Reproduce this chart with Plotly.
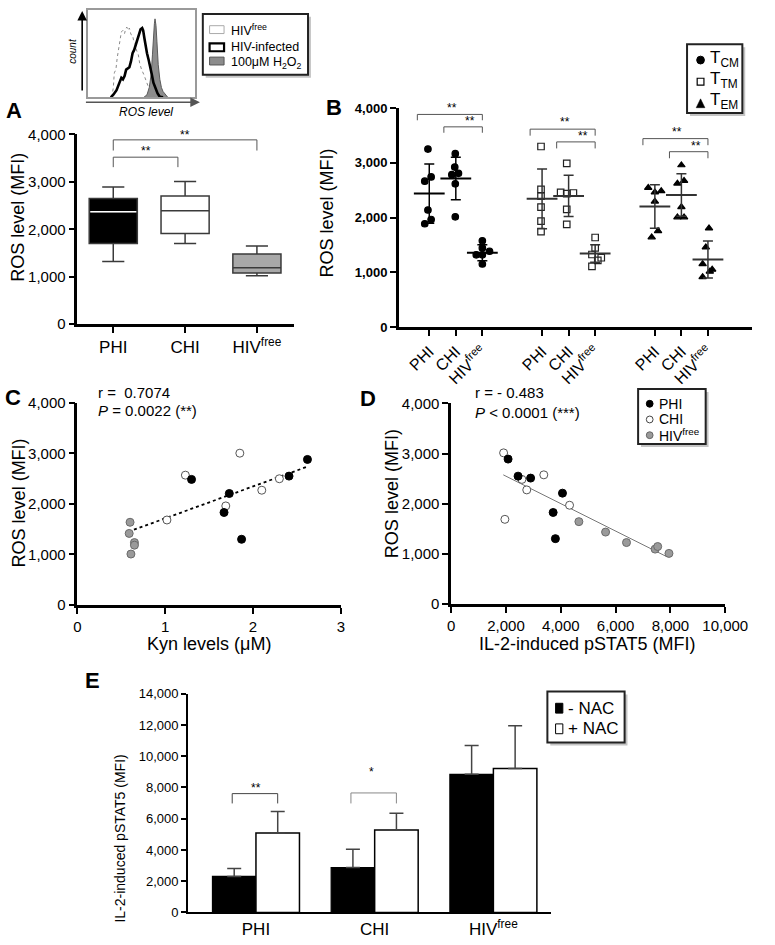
import plotly.graph_objects as go

W, H = 775, 945
FONT = "Liberation Sans, Arial, sans-serif"

# ---------------- data ----------------
# inset: flow histogram (ROS level channel vs count)
hist_free_x = [95, 100, 103, 108, 112, 117, 120, 125, 130, 135, 138, 142, 146, 150, 155, 160, 163, 168, 172, 178, 182, 188, 195, 200, 210, 220, 235]
hist_free_y = [0, 30, 75, 85, 120, 150, 175, 200, 205, 195, 208, 215, 205, 212, 192, 190, 175, 165, 145, 130, 105, 85, 70, 55, 30, 10, 0]
hist_inf_x = [92, 100, 110, 118, 125, 130, 135, 140, 145, 150, 155, 160, 165, 170, 175, 180, 185, 190, 193, 197, 200, 205, 210, 215, 220, 225, 230, 238, 245, 255]
hist_inf_y = [0, 8, 22, 45, 60, 55, 65, 85, 90, 92, 110, 135, 145, 160, 175, 195, 208, 212, 205, 180, 160, 135, 115, 95, 70, 45, 30, 12, 2, 0]
hist_h2o2_x = [195, 205, 212, 218, 222, 225, 228, 230, 233, 236, 240, 245, 250, 255, 262, 270]
hist_h2o2_y = [0, 8, 30, 70, 130, 190, 225, 240, 220, 170, 100, 55, 30, 18, 8, 0]

groups = ["PHI", "CHI", "HIV<sup>free</sup>"]

# panel A: box statistics of ROS level (MFI)
a_q1 = [1700, 1910, 1080]
a_med = [2370, 2390, 1190]
a_q3 = [2650, 2700, 1480]
a_lo = [1320, 1700, 1020]
a_hi = [2890, 3010, 1650]

# panel B: ROS level (MFI) per memory subset, per group (PHI, CHI, HIVfree)
subsets = ["T<sub>CM</sub>", "T<sub>TM</sub>", "T<sub>EM</sub>"]
b_tcm = [[3253, 2744, 2667, 2140, 1967, 1889],
         [3169, 2924, 2810, 2786, 2619, 2015],
         [1578, 1447, 1387, 1321, 1321, 1154]]
b_ttm = [[3300, 2517, 2392, 2194, 1937, 1746],
         [2990, 2463, 2440, 2451, 2152, 1877],
         [1638, 1447, 1327, 1268, 1220, 1112]]
b_tem = [[2547, 2463, 2487, 2296, 1758, 1644],
         [2960, 2625, 2673, 2194, 2009, 2009],
         [1806, 1459, 1154, 1052, 1016, 915]]
b_tcm_jitter = [[-0.05, 0.07, -0.17, -0.05, 0.07, -0.17],
                [-0.02, -0.04, 0.10, -0.15, -0.02, -0.02],
                [0.0, 0.0, 0.27, -0.23, 0.0, 0.0]]
b_ttm_jitter = [[-0.04, -0.04, -0.04, -0.04, -0.04, -0.04],
                [-0.07, -0.30, -0.07, 0.18, -0.07, -0.07],
                [0.0, 0.0, -0.12, 0.23, 0.10, -0.12]]
b_tem_jitter = [[-0.25, 0.0, 0.24, 0.0, 0.12, -0.12],
                [0.0, -0.15, 0.10, 0.0, -0.15, 0.10],
                [0.04, -0.08, -0.20, 0.16, 0.07, -0.20]]
b_mean = [[2440, 2714, 1360], [2344, 2398, 1345], [2203, 2415, 1235]]
b_sd = [[541, 388, 147], [547, 377, 160], [398, 389, 338]]
b_group_pos = [0.0, 4.25, 8.5]

# panel C: Kyn levels (uM) vs ROS level (MFI)
c_phi_kyn = [1.30, 1.73, 1.67, 1.87, 2.41, 2.62]
c_phi_ros = [2483, 2204, 1828, 1297, 2548, 2878]
c_chi_kyn = [1.23, 1.02, 1.69, 1.85, 2.10, 2.30]
c_chi_ros = [2567, 1679, 1958, 3002, 2269, 2496]
c_free_kyn = [0.60, 0.59, 0.65, 0.65, 0.61]
c_free_ros = [1634, 1413, 1232, 1180, 1005]
c_fit_x = [0.58, 2.62]
c_fit_y = [1446, 2736]

# panel D: IL-2-induced pSTAT5 (MFI) vs ROS level (MFI)
d_phi_p = [2077, 2441, 2899, 4061, 3721, 3803]
d_phi_ros = [2891, 2551, 2512, 2212, 1827, 1305]
d_chi_p = [1913, 2582, 2758, 3380, 4319, 1960]
d_chi_ros = [3015, 2486, 2277, 2577, 1971, 1690]
d_free_p = [4660, 5634, 6397, 7441, 7535, 7946]
d_free_ros = [1644, 1436, 1227, 1096, 1148, 1011]
d_fit_x = [1901, 7840]
d_fit_y = [2577, 953]

# panel E: IL-2-induced pSTAT5 (MFI) -/+ NAC
e_minus = [2305, 2871, 8845]
e_minus_err = [503, 1174, 1845]
e_plus = [5093, 5281, 9222]
e_plus_err = [1362, 1070, 2725]


# ---------------- helpers ----------------
def xd(a, b):
    return [a / W, b / W]


def yd(top, bot):
    return [1 - bot / H, 1 - top / H]


def PX(x):
    return x / W


def PY(y):
    return 1 - y / H


shapes = []
annotations = []


def ptext(x, y, text, size=15, xanchor="center", angle=0, bold=False, italic=False, color="black"):
    if bold:
        text = "<b>" + text + "</b>"
    if italic:
        text = "<i>" + text + "</i>"
    annotations.append(dict(x=PX(x), y=PY(y), xref="paper", yref="paper", text=text, showarrow=False,
                            xanchor=xanchor, yanchor="middle", textangle=angle,
                            font=dict(family=FONT, size=size, color=color)))


def prect(x0, y0, x1, y1, fill="white", line="black", lw=1.0):
    shapes.append(dict(type="rect", xref="paper", yref="paper", x0=PX(x0), x1=PX(x1), y0=PY(y1), y1=PY(y0),
                       fillcolor=fill, line=dict(color=line, width=lw)))


def pcircle(cx, cy, r, fill, line="black", lw=1.0):
    shapes.append(dict(type="circle", xref="paper", yref="paper", x0=PX(cx - r), x1=PX(cx + r),
                       y0=PY(cy + r), y1=PY(cy - r), fillcolor=fill, line=dict(color=line, width=lw)))


def ptri(cx, cy, s, fill="black"):
    path = "M {},{} L {},{} L {},{} Z".format(PX(cx - s / 2), PY(cy + s / 2), PX(cx + s / 2), PY(cy + s / 2),
                                             PX(cx), PY(cy - s / 2))
    shapes.append(dict(type="path", xref="paper", yref="paper", path=path, fillcolor=fill,
                       line=dict(color=fill, width=0.5)))


def legend_box(x0, y0, x1, y1):
    prect(x0 + 3, y0 + 3, x1 + 3, y1 + 3, fill="#c4c4c4", line="#c4c4c4", lw=0)
    prect(x0, y0, x1, y1, fill="white", line="#222", lw=2)


def bracket(ax, x0, x1, ytop, ybot, color="#555", lw=1.0):
    shapes.append(dict(type="path", xref="x" + ax, yref="y" + ax,
                       path="M {},{} L {},{} L {},{} L {},{}".format(x0, ybot, x0, ytop, x1, ytop, x1, ybot),
                       line=dict(color=color, width=lw)))


def stars(ax, x, y, text, size=12):
    annotations.append(dict(x=x, y=y, xref="x" + ax, yref="y" + ax, text=text, showarrow=False,
                            font=dict(family=FONT, size=size, color="black"), yanchor="middle"))


fig = go.Figure()

# ---------------- inset histogram ----------------
fig.add_trace(go.Scatter(x=hist_h2o2_x, y=hist_h2o2_y, mode="lines", fill="tozeroy", fillcolor="#8c8c8c",
                         line=dict(color="#5a5a5a", width=1), name="100μM H2O2", showlegend=False,
                         xaxis="x", yaxis="y"))
fig.add_trace(go.Scatter(x=hist_free_x, y=hist_free_y, mode="lines", line=dict(color="#8a8a8a", width=1, dash="dot"),
                         name="HIVfree", showlegend=False, xaxis="x", yaxis="y"))
fig.add_trace(go.Scatter(x=hist_inf_x, y=hist_inf_y, mode="lines", line=dict(color="black", width=2.6),
                         name="HIV-infected", showlegend=False, xaxis="x", yaxis="y"))

# ---------------- panel A ----------------
a_x = [0, 1, 2]
a_fill = ["black", "white", "#a8a8a8"]
for i in range(3):
    fig.add_trace(go.Box(x=[a_x[i]], q1=[a_q1[i]], median=[a_med[i]], q3=[a_q3[i]], lowerfence=[a_lo[i]],
                         upperfence=[a_hi[i]], width=0.67, whiskerwidth=0.46, fillcolor=a_fill[i],
                         line=dict(color="#3a3a3a", width=1.5), name=groups[i], showlegend=False,
                         boxpoints=False, xaxis="x2", yaxis="y2"))
# white median line on the black PHI box
fig.add_trace(go.Scatter(x=[a_x[0] - 0.32, a_x[0] + 0.32], y=[a_med[0], a_med[0]], mode="lines",
                         line=dict(color="white", width=1.5), showlegend=False, hoverinfo="skip",
                         xaxis="x2", yaxis="y2"))
bracket("2", 0, 0.9, 3520, 3310)
bracket("2", 0, 2.0, 3885, 3660)
stars("2", 0.45, 3650, "**")
stars("2", 1.0, 3995, "**")

# ---------------- panel B ----------------
b_sets = [b_tcm, b_ttm, b_tem]
b_jit = [b_tcm_jitter, b_ttm_jitter, b_tem_jitter]
b_symbols = ["circle", "square-open", "triangle-up"]
b_mcol = ["black", "#222", "black"]
for s in range(3):
    xs, ys = [], []
    for g in range(3):
        for v, j in zip(b_sets[s][g], b_jit[s][g]):
            xs.append(b_group_pos[s] + g + j)
            ys.append(v)
    fig.add_trace(go.Scatter(x=xs, y=ys, mode="markers", name=subsets[s], showlegend=False,
                             marker=dict(symbol=b_symbols[s], size=6.5, color=b_mcol[s],
                                         line=dict(color=b_mcol[s], width=1.2)),
                             xaxis="x3", yaxis="y3", cliponaxis=False))
    mx = [b_group_pos[s] + g for g in range(3)]
    lc = "black" if s == 0 else "#333"
    fig.add_trace(go.Scatter(x=mx, y=b_mean[s], mode="markers", showlegend=False, hoverinfo="skip",
                             marker=dict(symbol="line-ew-open", size=22, color=lc, line=dict(color=lc, width=2)),
                             error_y=dict(type="data", array=b_sd[s], color=lc, thickness=1.5, width=5),
                             xaxis="x3", yaxis="y3"))
b_br = [(3886, 3779, 3659, 3551), (3617, 3498, 3384, 3265), (3444, 3324, 3205, 3085)]
for s in range(3):
    base = b_group_pos[s]
    u, ul, l, ll = b_br[s]
    bracket("3", base - 0.45, base + 2, u, ul)
    bracket("3", base + 1 - 0.45, base + 2, l, ll)
    stars("3", base + 0.85, min(u + 125, 3995), "**")
    stars("3", base + 1.55, l + 110, "**")

# ---------------- panel C ----------------
fig.add_trace(go.Scatter(x=c_fit_x, y=c_fit_y, mode="lines", line=dict(color="black", width=1.8, dash="dot"),
                         showlegend=False, hoverinfo="skip", xaxis="x4", yaxis="y4"))
fig.add_trace(go.Scatter(x=c_free_kyn, y=c_free_ros, mode="markers", name="HIVfree", showlegend=False,
                         marker=dict(size=8, color="#9a9a9a", line=dict(color="#6a6a6a", width=1)),
                         xaxis="x4", yaxis="y4"))
fig.add_trace(go.Scatter(x=c_chi_kyn, y=c_chi_ros, mode="markers", name="CHI", showlegend=False,
                         marker=dict(size=8, color="white", line=dict(color="#555", width=1)),
                         xaxis="x4", yaxis="y4"))
fig.add_trace(go.Scatter(x=c_phi_kyn, y=c_phi_ros, mode="markers", name="PHI", showlegend=False,
                         marker=dict(size=8, color="black", line=dict(color="black", width=1)),
                         xaxis="x4", yaxis="y4"))

# ---------------- panel D ----------------
fig.add_trace(go.Scatter(x=d_fit_x, y=d_fit_y, mode="lines", line=dict(color="#777", width=1),
                         showlegend=False, hoverinfo="skip", xaxis="x5", yaxis="y5"))
fig.add_trace(go.Scatter(x=d_free_p, y=d_free_ros, mode="markers", name="HIVfree", showlegend=False,
                         marker=dict(size=8, color="#9a9a9a", line=dict(color="#6a6a6a", width=1)),
                         xaxis="x5", yaxis="y5"))
fig.add_trace(go.Scatter(x=d_chi_p, y=d_chi_ros, mode="markers", name="CHI", showlegend=False,
                         marker=dict(size=8, color="white", line=dict(color="#555", width=1)),
                         xaxis="x5", yaxis="y5"))
fig.add_trace(go.Scatter(x=d_phi_p, y=d_phi_ros, mode="markers", name="PHI", showlegend=False,
                         marker=dict(size=8, color="black", line=dict(color="black", width=1)),
                         xaxis="x5", yaxis="y5"))

# ---------------- panel E ----------------
fig.add_trace(go.Bar(x=[0, 1, 2], y=e_minus, name="- NAC", showlegend=False, marker=dict(color="black",
                     line=dict(color="black", width=1.2)),
                     error_y=dict(type="data", array=e_minus_err, arrayminus=[0, 0, 0], symmetric=False,
                                  color="#444", thickness=1.5, width=7),
                     xaxis="x6", yaxis="y6"))
fig.add_trace(go.Bar(x=[0, 1, 2], y=e_plus, name="+ NAC", showlegend=False, marker=dict(color="white",
                     line=dict(color="black", width=1.5)),
                     error_y=dict(type="data", array=e_plus_err, arrayminus=[0, 0, 0], symmetric=False,
                                  color="#444", thickness=1.5, width=7),
                     xaxis="x6", yaxis="y6"))
bracket("6", -0.2, 0.183, 7607, 6979, color="#444")
bracket("6", 1 - 0.2, 1.183, 7650, 6979, color="#888")
stars("6", 0.0, 7966, "**", size=12)
stars("6", 0.97, 8970, "*", size=12)


# ---------------- axes ----------------
def ax_common(**kw):
    d = dict(showgrid=False, zeroline=False, showline=True, linecolor="black", linewidth=2.5,
             ticks="outside", tickcolor="black", tickwidth=2, ticklen=6,
             tickfont=dict(family=FONT, size=15, color="black"), fixedrange=True)
    d.update(kw)
    return d


layout_axes = dict(
    xaxis=dict(domain=xd(86.7, 198), range=[20, 355], anchor="y", showgrid=False, zeroline=False,
               showline=True, mirror=True, linecolor="#9a9a9a", linewidth=2, showticklabels=False, ticks="",
               fixedrange=True),
    yaxis=dict(domain=yd(0.7, 90), range=[0, 268], anchor="x", showgrid=False, zeroline=False,
               showline=True, mirror=True, linecolor="#9a9a9a", linewidth=2, showticklabels=False, ticks="",
               fixedrange=True),
    xaxis2=ax_common(domain=xd(76, 300), range=[-0.5, 2.51], anchor="y2", tickvals=[0, 1, 2],
                     ticktext=groups, tickfont=dict(family=FONT, size=17, color="black")),
    yaxis2=ax_common(domain=yd(127.7, 321), range=[0, 4000], anchor="x2", tickvals=[0, 1000, 2000, 3000, 4000],
                     tickformat=",d"),
    xaxis3=ax_common(domain=xd(409, 775), range=[-1.15, 12.16], anchor="y3",
                     tickvals=[b_group_pos[s] + g for s in range(3) for g in range(3)],
                     ticktext=groups * 3, tickangle=-45, tickfont=dict(family=FONT, size=16, color="black")),
    yaxis3=ax_common(domain=yd(101, 324), range=[0, 4000], anchor="x3", tickvals=[0, 1000, 2000, 3000, 4000],
                     tickformat=",d", tickfont=dict(family=FONT, size=13, color="black", weight="bold")),
    xaxis4=ax_common(domain=xd(76, 349), range=[0, 3], anchor="y4", tickvals=[0, 1, 2, 3]),
    yaxis4=ax_common(domain=yd(401, 606.7), range=[0, 4000], anchor="x4", tickvals=[0, 1000, 2000, 3000, 4000],
                     tickformat=",d"),
    xaxis5=ax_common(domain=xd(463.3, 747.3), range=[0, 10000], anchor="y5",
                     tickvals=[0, 2000, 4000, 6000, 8000, 10000], tickformat=",d"),
    yaxis5=ax_common(domain=yd(401.7, 606), range=[0, 4000], anchor="x5", tickvals=[0, 1000, 2000, 3000, 4000],
                     tickformat=",d"),
    xaxis6=ax_common(domain=xd(190.7, 566.7), range=[-0.572, 2.485], anchor="y6", tickvals=[0, 1, 2],
                     ticktext=groups, ticks="", linewidth=1.8, tickfont=dict(family=FONT, size=17, color="black")),
    yaxis6=ax_common(domain=yd(697.3, 920), range=[0, 14000], anchor="x6",
                     tickvals=[0, 2000, 4000, 6000, 8000, 10000, 12000, 14000], tickformat=",d",
                     linewidth=1.8, tickwidth=1.5, ticklen=5, tickfont=dict(family=FONT, size=13, color="black")),
)

# ---------------- text, titles, legends ----------------
# inset arrows and labels
annotations.append(dict(x=PX(81), y=PY(2), xref="paper", yref="paper", ax=0, ay=88, axref="pixel", ayref="pixel",
                        showarrow=True, arrowhead=2, arrowsize=1.2, arrowwidth=1.6, arrowcolor="black", text=" ",
                        standoff=0, startstandoff=0))
annotations.append(dict(x=PX(203), y=PY(95), xref="paper", yref="paper", ax=-117, ay=0, axref="pixel", ayref="pixel",
                        showarrow=True, arrowhead=2, arrowsize=1.2, arrowwidth=1.6, arrowcolor="#555", text=" ",
                        standoff=0, startstandoff=0))
ptext(71, 43, "count", size=10, angle=-90, italic=True)
ptext(147, 105, "ROS level", size=12, italic=True)

legend_box(206, 5, 315, 67)
prect(213, 17, 228, 25, fill="white", line="#aaa", lw=1)
prect(213, 35, 228, 43, fill="white", line="black", lw=2.2)
prect(213, 49, 228, 57, fill="#8c8c8c", line="#555", lw=1)
ptext(233, 21, "HIV<sup>free</sup>", size=12.5, xanchor="left")
ptext(233, 39, "HIV-infected", size=12.5, xanchor="left")
ptext(233, 55, "100μM H<sub>2</sub>O<sub>2</sub>", size=12.5, xanchor="left")

# panel letters
ptext(10, 103, "A", size=22, bold=True)
ptext(342, 100, "B", size=22, bold=True)
ptext(9, 396, "C", size=22, bold=True)
ptext(377, 397, "D", size=22, bold=True)
ptext(92, 684, "E", size=22, bold=True)

# axis titles
ptext(15, 212, "ROS level (MFI)", size=18, angle=-90)
ptext(335, 208, "ROS level (MFI)", size=18, angle=-90)
ptext(16, 503, "ROS level (MFI)", size=18, angle=-90)
ptext(402, 493, "ROS level (MFI)", size=18, angle=-90)
ptext(212, 647, "Kyn levels (μM)", size=18)
ptext(604, 647, "IL-2-induced pSTAT5 (MFI)", size=18)
ptext(120, 845, "IL-2-induced pSTAT5 (MFI)", size=14, angle=-90)

# correlation stats
ptext(95, 391, "r =  0.7074", size=15, xanchor="left")
ptext(95, 409, "<i>P</i> = 0.0022 (**)", size=15, xanchor="left")
ptext(486, 391, "r = - 0.483", size=15, xanchor="left")
ptext(486, 411, "<i>P</i> < 0.0001 (***)", size=15, xanchor="left")

# legend B
legend_box(707.7, 36, 765, 106)
pcircle(721.7, 52, 4, "black")
prect(718.2, 70.5, 725.2, 77.5, fill="white", line="black", lw=1.2)
ptri(721.7, 96, 9)
ptext(729, 51, "T<sub>CM</sub>", size=17, xanchor="left")
ptext(729, 72, "T<sub>TM</sub>", size=17, xanchor="left")
ptext(729, 94, "T<sub>EM</sub>", size=17, xanchor="left")

# legend D
legend_box(657, 387, 727, 443)
pcircle(669, 402, 3.5, "black")
pcircle(669, 418, 3.5, "white", line="#444")
pcircle(669, 434, 3.5, "#9a9a9a", line="#666")
ptext(677, 402, "PHI", size=14, xanchor="left")
ptext(677, 418, "CHI", size=14, xanchor="left")
ptext(677, 434, "HIV<sup>free</sup>", size=14, xanchor="left")

# legend E
legend_box(563, 695, 643, 747)
prect(571.5, 707, 579, 717, fill="black", line="black", lw=1)
prect(571.5, 728, 579, 738, fill="white", line="black", lw=1)
ptext(582, 712, "- NAC", size=17, xanchor="left")
ptext(582, 733, "+ NAC", size=17, xanchor="left")

fig.update_layout(
    width=W, height=H, margin=dict(l=0, r=0, t=0, b=0), paper_bgcolor="white", plot_bgcolor="rgba(0,0,0,0)",
    font=dict(family=FONT, color="black"), showlegend=False, barmode="group", bargap=0.267, bargroupgap=0,
    shapes=shapes, annotations=annotations, **layout_axes,
)

fig.write_html("out.html", config={"displayModeBar": False},
               post_script="document.body.style.margin='0px';")
